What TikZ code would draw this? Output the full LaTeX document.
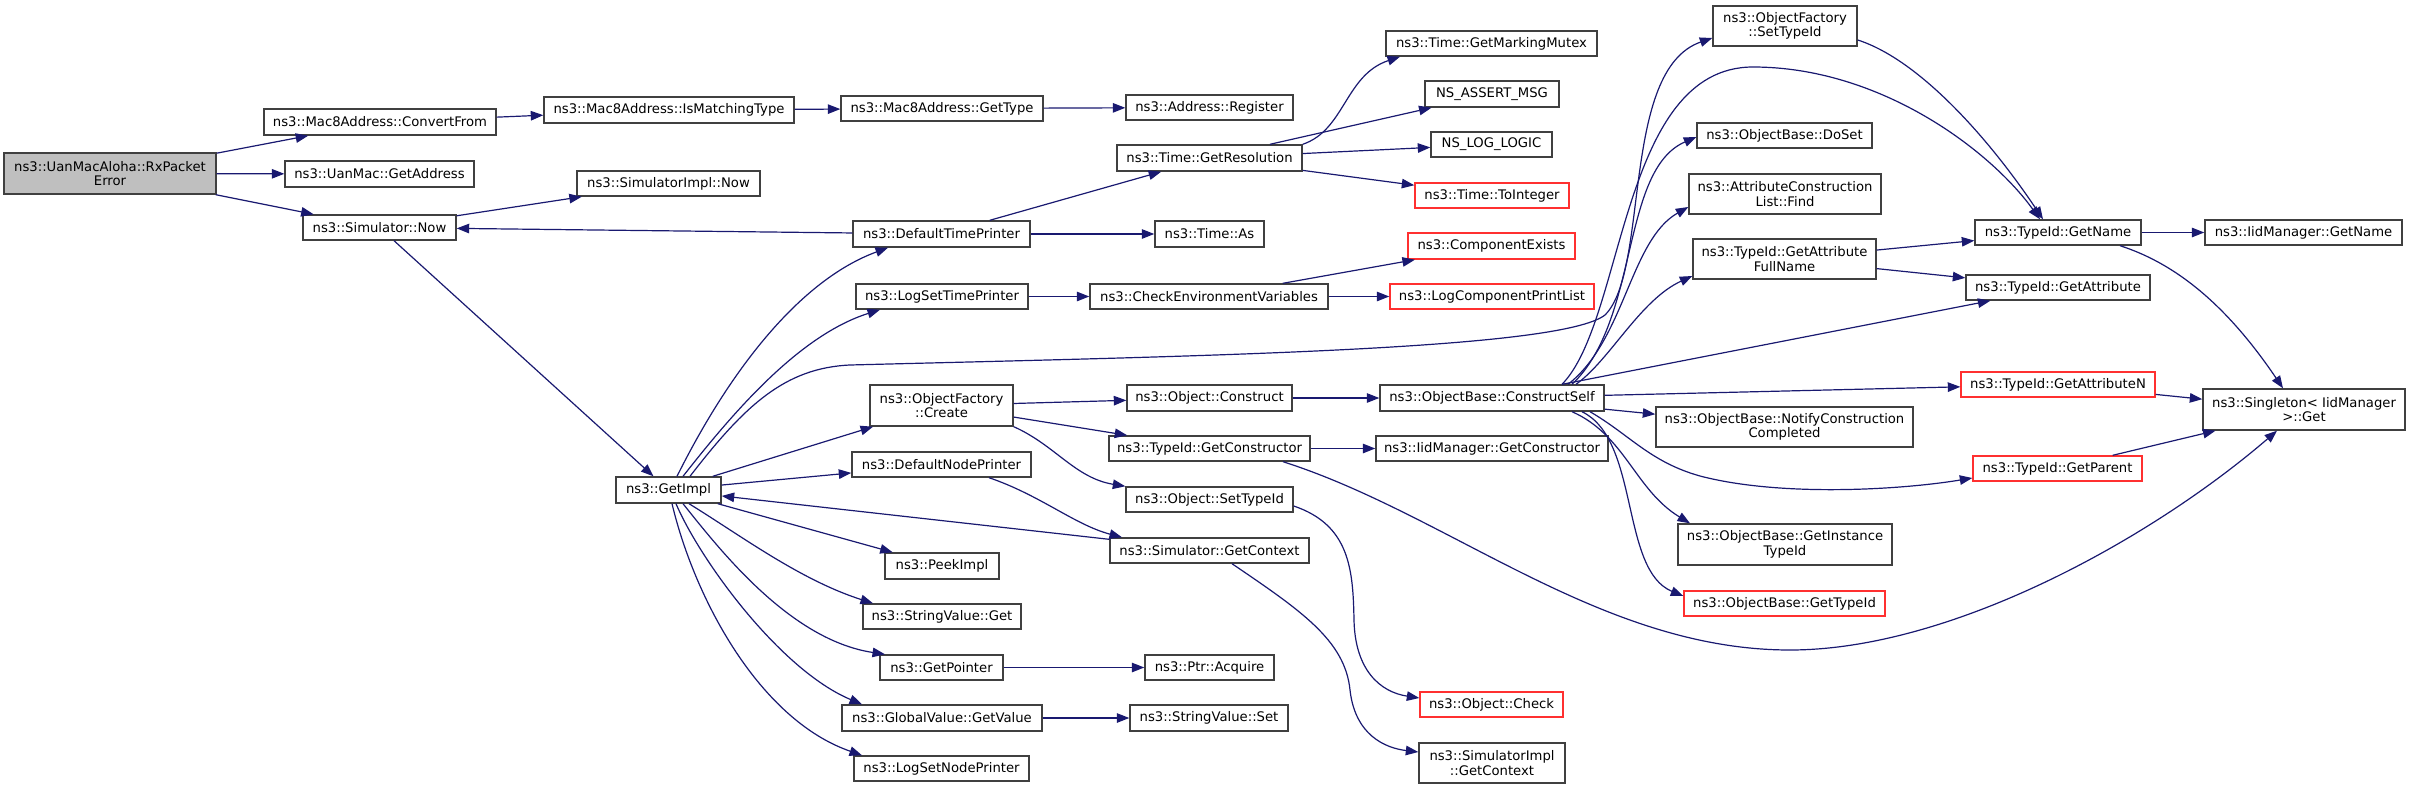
\documentclass[tikz,border=0pt]{standalone}
\usepackage{fontspec}
\setmainfont{DejaVu Sans}
\usetikzlibrary{arrows.meta}
\definecolor{edgec}{HTML}{191970}
\definecolor{rootfill}{HTML}{BFBFBF}
\definecolor{boxline}{HTML}{404040}
\definecolor{redline}{HTML}{FF3030}
\newcommand\nfont{\fontsize{13.2pt}{14.7pt}\selectfont}
\newcommand\nd[7]{\node[#6, minimum width={(#4)-(#2)}, minimum height={(#5)-(#3)}] (#1) at ({((#2)+(#4))/2},{((#3)+(#5))/2}) {#7};}
\tikzset{
  box/.style={draw=boxline, line width=1.4pt, inner sep=0pt, align=center, font=\nfont, fill=white},
  rbox/.style={box, draw=redline},
  rootbox/.style={box, fill=rootfill},
  e/.style={draw=edgec, line width=1.2pt, -{Triangle[length=12.5pt,width=9.5pt]}}
}
\begin{document}
\begin{tikzpicture}[x=1pt,y=-1pt]
\useasboundingbox (0,0) rectangle (2411,789);
% nodes
\nd{root}{4}{153}{216}{194}{rootbox}{ns3::UanMacAloha::RxPacket\\Error}
\nd{convfrom}{264}{109}{496}{135}{box}{ns3::Mac8Address::ConvertFrom}
\nd{getaddr}{285}{161}{474}{187}{box}{ns3::UanMac::GetAddress}
\nd{simnow}{303}{215}{456}{240}{box}{ns3::Simulator::Now}
\nd{ismatch}{544}{97}{794}{123}{box}{ns3::Mac8Address::IsMatchingType}
\nd{gettype}{841}{96}{1043}{121}{box}{ns3::Mac8Address::GetType}
\nd{register}{1126}{95}{1293}{120}{box}{ns3::Address::Register}
\nd{simimplnow}{577}{171}{760}{196}{box}{ns3::SimulatorImpl::Now}
\nd{getres}{1117}{145}{1302}{171}{box}{ns3::Time::GetResolution}
\nd{deftp}{853}{221}{1030}{247}{box}{ns3::DefaultTimePrinter}
\nd{timeas}{1155}{221}{1264}{247}{box}{ns3::Time::As}
\nd{logstp}{856}{284}{1028}{309}{box}{ns3::LogSetTimePrinter}
\nd{checkenv}{1090}{284}{1328}{309}{box}{ns3::CheckEnvironmentVariables}
\nd{ofcreate}{870}{385}{1013}{426}{box}{ns3::ObjectFactory\\::Create}
\nd{objconstruct}{1127}{385}{1292}{411}{box}{ns3::Object::Construct}
\nd{tidgetctor}{1109}{436}{1310}{461}{box}{ns3::TypeId::GetConstructor}
\nd{objsettid}{1126}{487}{1293}{512}{box}{ns3::Object::SetTypeId}
\nd{simgetctx}{1110}{538}{1309}{563}{box}{ns3::Simulator::GetContext}
\nd{getimpl}{616}{477}{721}{503}{box}{ns3::GetImpl}
\nd{defnp}{852}{452}{1031}{477}{box}{ns3::DefaultNodePrinter}
\nd{peekimpl}{885}{553}{999}{579}{box}{ns3::PeekImpl}
\nd{svget}{863}{604}{1021}{629}{box}{ns3::StringValue::Get}
\nd{getptr}{880}{655}{1003}{680}{box}{ns3::GetPointer}
\nd{ptracq}{1145}{655}{1274}{680}{box}{ns3::Ptr::Acquire}
\nd{gvget}{842}{705}{1042}{731}{box}{ns3::GlobalValue::GetValue}
\nd{svset}{1130}{705}{1288}{731}{box}{ns3::StringValue::Set}
\nd{logsnp}{854}{756}{1029}{781}{box}{ns3::LogSetNodePrinter}
\nd{markmutex}{1386}{31}{1597}{56}{box}{ns3::Time::GetMarkingMutex}
\nd{assert}{1425}{81}{1559}{107}{box}{NS\_ASSERT\_MSG}
\nd{loglogic}{1431}{132}{1552}{157}{box}{NS\_LOG\_LOGIC}
\nd{toint}{1415}{183}{1569}{208}{rbox}{ns3::Time::ToInteger}
\nd{compexists}{1408}{233}{1575}{259}{rbox}{ns3::ComponentExists}
\nd{logcpl}{1390}{284}{1594}{309}{rbox}{ns3::LogComponentPrintList}
\nd{ofsettid}{1713}{6}{1857}{46}{box}{ns3::ObjectFactory\\::SetTypeId}
\nd{doset}{1697}{123}{1872}{148}{box}{ns3::ObjectBase::DoSet}
\nd{acfind}{1689}{174}{1881}{214}{box}{ns3::AttributeConstruction\\List::Find}
\nd{gafn}{1693}{239}{1876}{279}{box}{ns3::TypeId::GetAttribute\\FullName}
\nd{constructself}{1380}{385}{1604}{411}{box}{ns3::ObjectBase::ConstructSelf}
\nd{notify}{1656}{407}{1913}{447}{box}{ns3::ObjectBase::NotifyConstruction\\Completed}
\nd{iidgetctor}{1376}{436}{1608}{461}{box}{ns3::IidManager::GetConstructor}
\nd{getinst}{1678}{524}{1892}{565}{box}{ns3::ObjectBase::GetInstance\\TypeId}
\nd{obgettid}{1684}{591}{1885}{616}{rbox}{ns3::ObjectBase::GetTypeId}
\nd{objcheck}{1420}{692}{1563}{717}{rbox}{ns3::Object::Check}
\nd{simimplctx}{1419}{743}{1565}{783}{box}{ns3::SimulatorImpl\\::GetContext}
\nd{getname}{1975}{220}{2141}{245}{box}{ns3::TypeId::GetName}
\nd{iidgetname}{2205}{220}{2402}{245}{box}{ns3::IidManager::GetName}
\nd{getattr}{1966}{275}{2150}{300}{box}{ns3::TypeId::GetAttribute}
\nd{getattrn}{1961}{372}{2155}{397}{rbox}{ns3::TypeId::GetAttributeN}
\nd{singleton}{2203}{389}{2405}{430}{box}{ns3::Singleton< IidManager\\>::Get}
\nd{getparent}{1973}{456}{2142}{481}{rbox}{ns3::TypeId::GetParent}
% edges
\draw[e] (root) -- (convfrom);
\draw[e] (root) -- (getaddr);
\draw[e] (root) -- (simnow);
\draw[e] (convfrom) -- (ismatch);
\draw[e] (ismatch) -- (gettype);
\draw[e] (gettype) -- (register);
\draw[e] (simnow) -- (simimplnow);
\draw[e] (simnow) -- (getimpl);
\draw[e] (deftp) -- (simnow);
\draw[e] (deftp) -- (getres);
\draw[e] (deftp) -- (timeas);
\draw[e] (getres.north east) .. controls (1345,130) and (1345,75) .. (markmutex.south -| 1400,0);
\draw[e] (getres) -- (assert);
\draw[e] (getres) -- (loglogic);
\draw[e] (getres) -- (toint);
\draw[e] (getimpl.north -| 677,0) .. controls (730,370) and (800,280) .. (deftp.south -| 888,0);
\draw[e] (getimpl.north -| 683,0) .. controls (735,410) and (800,335) .. (logstp.south -| 880,0);
\draw[e] (getimpl.north -| 690,0) .. controls (745,405) and (785,368) .. (850,365) .. controls (1200,356) and (1560,350) .. (1605,315) .. controls (1650,270) and (1620,70) .. (ofsettid.west |- 0,38);
\draw[e] (logstp) -- (checkenv);
\draw[e] (checkenv) -- (compexists);
\draw[e] (checkenv) -- (logcpl);
\draw[e] (getimpl) -- (ofcreate);
\draw[e] (getimpl) -- (defnp);
\draw[e] (simgetctx) -- (getimpl);
\draw[e] (getimpl) -- (peekimpl);
\draw[e] (getimpl.south -| 689,0) .. controls (740,535) and (800,580) .. (svget.north -| 873,0);
\draw[e] (getimpl.south -| 683,0) .. controls (720,550) and (790,640) .. (getptr.north -| 885,0);
\draw[e] (getimpl.south -| 676,0) .. controls (700,560) and (780,670) .. (gvget.north -| 862,0);
\draw[e] (getimpl.south -| 672,0) .. controls (695,600) and (760,720) .. (logsnp.north -| 862,0);
\draw[e] (ofcreate) -- (objconstruct);
\draw[e] (ofcreate) -- (tidgetctor);
\draw[e] (ofcreate.south east) .. controls (1055,445) and (1075,478) .. (objsettid.north west);
\draw[e] (defnp.south -| 989,0) .. controls (1040,495) and (1075,525) .. (simgetctx.north -| 1122,0);
\draw[e] (getptr) -- (ptracq);
\draw[e] (gvget) -- (svset);
\draw[e] (objconstruct) -- (constructself);
\draw[e] (tidgetctor) -- (iidgetctor);
\draw[e] (tidgetctor.south -| 1283,0) .. controls (1450,515) and (1600,650) .. (1790,650) .. controls (1950,650) and (2150,540) .. (singleton.south -| 2277,0);
\draw[e] (objsettid.east |- 0,506) .. controls (1350,525) and (1353,570) .. (1354,620) .. controls (1355,670) and (1380,692) .. (objcheck.west |- 0,698);
\draw[e] (simgetctx.south -| 1232,0) .. controls (1300,610) and (1345,640) .. (1350,690) .. controls (1355,735) and (1385,748) .. (simimplctx.west |- 0,752);
\draw[e] (constructself) -- (notify);
\draw[e] (constructself) -- (getattr);
\draw[e] (constructself) -- (getattrn);
\draw[e] (constructself.north -| 1572,0) .. controls (1640,320) and (1620,170) .. (doset.west |- 0,137);
\draw[e] (constructself.north -| 1568,0) .. controls (1625,340) and (1630,240) .. (acfind.west |- 0,207);
\draw[e] (constructself.north -| 1576,0) .. controls (1610,360) and (1640,300) .. (gafn.west |- 0,276);
\draw[e] (constructself.north -| 1562,0) .. controls (1625,320) and (1620,67) .. (1753,67) .. controls (1880,67) and (1990,150) .. (getname.north -| 2040,0);
\draw[e] (constructself.south -| 1590,0) .. controls (1630,435) and (1650,462) .. (1700,476) .. controls (1780,497) and (1900,490) .. (getparent.west |- 0,478);
\draw[e] (constructself.south -| 1572,0) .. controls (1625,435) and (1635,490) .. (getinst.north -| 1690,0);
\draw[e] (constructself.south -| 1582,0) .. controls (1640,440) and (1620,570) .. (obgettid.west |- 0,596);
\draw[e] (ofsettid.east |- 0,40) .. controls (1920,60) and (1990,140) .. (getname.north -| 2043,0);
\draw[e] (gafn) -- (getname);
\draw[e] (gafn) -- (getattr);
\draw[e] (getname) -- (iidgetname);
\draw[e] (getname.south -| 2120,0) .. controls (2180,265) and (2230,310) .. (singleton.north -| 2283,0);
\draw[e] (getattrn) -- (singleton);
\draw[e] (getparent) -- (singleton);
\end{tikzpicture}
\end{document}
